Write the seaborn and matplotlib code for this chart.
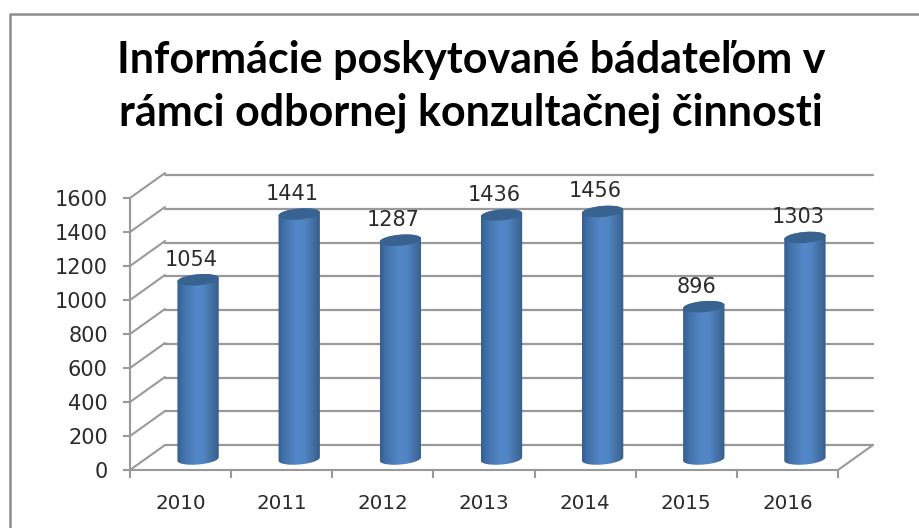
import numpy as np
import pandas as pd
import seaborn as sns
import matplotlib
matplotlib.use("Agg")
import matplotlib.pyplot as plt
from matplotlib.colors import LinearSegmentedColormap
from matplotlib.lines import Line2D
from matplotlib.patches import Ellipse, PathPatch
from matplotlib.path import Path
from matplotlib.transforms import IdentityTransform

years = ["2010", "2011", "2012", "2013", "2014", "2015", "2016"]
values = [1054, 1441, 1287, 1436, 1456, 896, 1303]
y_ticks = [0, 200, 400, 600, 800, 1000, 1200, 1400, 1600]
title = "Informácie poskytované bádateľom v\nrámci odbornej konzultačnej činnosti"

sns.set_theme(style="white")
plt.rcParams["font.family"] = ["DejaVu Sans"]

W, H = 919, 528
GRID = "#999999"
TEXT = "#2B2B2B"
fig = plt.figure(figsize=(W / 100, H / 100), dpi=100, facecolor="white")


def axes_px(left, top, right, bottom):
    a = fig.add_axes([left / W, 1 - bottom / H, (right - left) / W, (bottom - top) / H])
    a.set_facecolor("none")
    a.set_ylim(0, 1600)
    return a


# front plane, back wall and the middle plane in which the cylinders stand
L, R, B, T = 130, 838, 470, 198
DX, DY = 35, 25
back = axes_px(L + DX, T - DY + 2, R + DX, B - DY)
front = axes_px(L, T, R, B)
mid = axes_px(L + DX / 2, T - 11, R + DX / 2, B - 11)

# back wall gridlines
back.set_yticks(y_ticks)
back.set_xticks([])
back.tick_params(left=False, labelleft=False)
back.grid(axis="y", color=GRID, lw=1.6, clip_on=False)
sns.despine(ax=back, left=True, bottom=True)

# front axes
df = pd.DataFrame({"year": years, "value": values})
front.set_xlim(-0.5, len(years) - 0.5)
front.set_xticks(np.arange(len(years) + 1) - 0.5, labels=[""] * (len(years) + 1))
front.set_xticks(np.arange(len(years)), labels=years, minor=True)
front.tick_params(axis="x", which="major", length=6, width=1.5, color=GRID, bottom=True)
front.tick_params(axis="x", which="minor", length=0, pad=17, labelsize=14.3, labelcolor=TEXT)
front.set_yticks(y_ticks)
front.tick_params(axis="y", length=5, width=1.5, color=GRID, left=True, pad=11,
                  labelsize=15, labelcolor=TEXT)
sns.despine(ax=front)
for side in ("left", "bottom"):
    front.spines[side].set_color(GRID)
    front.spines[side].set_linewidth(1.5)

# depth connectors, derived from the ticks
for v in y_ticks:
    x0, y0 = front.transData.transform((-0.5, v))
    fig.add_artist(Line2D([x0, x0 + DX], [y0, y0 + DY], color=GRID, lw=1.5,
                          transform=IdentityTransform()))
xr, yr = front.transData.transform((len(years) - 0.5, 0))
fig.add_artist(Line2D([xr, xr + DX], [yr, yr + DY], color=GRID, lw=1.5,
                      transform=IdentityTransform()))

# cylinders
sns.barplot(data=df, x="year", y="value", ax=mid, color="#4F81BD", width=0.41,
            saturation=1, linewidth=0)
mid.set_xlim(-0.5, len(years) - 0.5)
mid.set_ylim(0, 1600)
mid.axis("off")

shade = LinearSegmentedColormap.from_list(
    "cyl", [(0, "#345E90"), (0.15, "#4272AB"), (0.45, "#5487C8"),
            (0.65, "#5084C2"), (0.88, "#406B9C"), (1, "#375E88")])
grad = np.linspace(0, 1, 128)[None, :]
TILT = np.deg2rad(5)
EH = 5.5


def arc(cx, cy, a, b, t):
    px = a * np.cos(t)
    py = b * np.sin(t)
    return (cx + px * np.cos(TILT) - py * np.sin(TILT),
            cy + px * np.sin(TILT) + py * np.cos(TILT))


for patch, val in zip(mid.containers[0], values):
    x = patch.get_x()
    w = patch.get_width()
    (x0, y0), (x1, y1) = mid.transData.transform([(x, 0), (x + w, val)])
    cx, a = (x0 + x1) / 2, (x1 - x0) / 2
    t_bot = np.linspace(np.pi, 2 * np.pi, 40)
    t_top = np.linspace(0, np.pi, 40)
    bx, by = arc(cx, y0, a, EH, t_bot)
    tx, ty = arc(cx, y1, a, EH, t_top)
    verts = np.r_[np.c_[bx, by], np.c_[tx, ty], [[bx[0], by[0]]]]
    body = Path(verts)
    patch.set_visible(False)
    im = mid.imshow(grad, cmap=shade, aspect="auto", zorder=3,
                    extent=(x, x + w, -150, val + 150))
    clip = PathPatch(body, transform=IdentityTransform())
    im.set_clip_box(fig.bbox)
    im.set_clip_path(clip)
    ell = Ellipse((cx, y1), 2 * a, 2 * EH, angle=np.rad2deg(TILT), fc="#38628F", ec="none",
                  transform=IdentityTransform(), zorder=4, clip_on=False)
    mid.add_artist(ell)
    ell.set_clip_on(False)
    mid.annotate(str(val), xy=(x + w / 2, val), xytext=(-7, 20), textcoords="offset pixels",
                 ha="center", va="center", fontsize=15, color=TEXT, zorder=5,
                 annotation_clip=False)
mid.set_xlim(-0.5, len(years) - 0.5)
mid.set_ylim(0, 1600)

# title and outer frame
fig.text(471 / W, 1 - 60 / H, title.split("\n")[0], ha="center", va="center",
         fontsize=31, fontweight="bold", family="Lato", color="black")
fig.text(471 / W, 1 - 113 / H, title.split("\n")[1], ha="center", va="center",
         fontsize=31, fontweight="bold", family="Lato", color="black")
fig.add_artist(Line2D([9.5 / W, 9.5 / W, 1], [0, 1 - 13.5 / H, 1 - 13.5 / H],
                      color="#8C8C8C", lw=1.8, transform=fig.transFigure))

fig.savefig("out.png", dpi=100, facecolor="white")
